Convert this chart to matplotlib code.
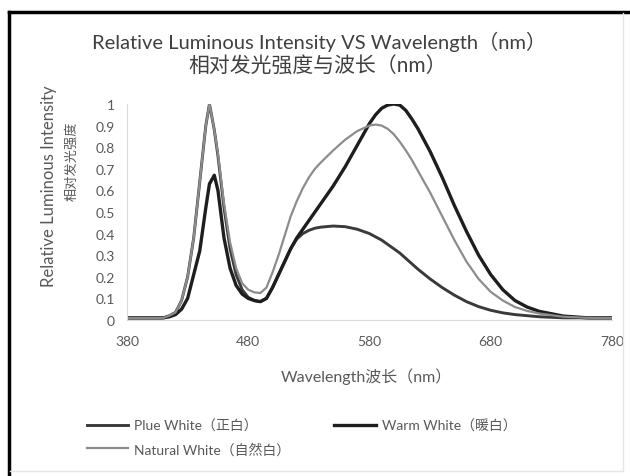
import matplotlib
matplotlib.use("Agg")
import matplotlib.pyplot as plt
from matplotlib.lines import Line2D

plt.rcParams['font.family'] = ['Lato', 'Noto Sans CJK SC', 'DejaVu Sans']

# wavelength grid (nm)
wavelength = [380, 390, 400, 410, 415, 420, 425, 430, 435, 440, 445, 448, 452, 455,
              460, 465, 470, 475, 480, 485, 490, 495, 500, 505, 510, 515, 520, 525,
              530, 535, 540, 550, 560, 570, 580, 585, 590, 595, 600, 605, 610, 615,
              620, 630, 640, 650, 660, 670, 680, 690, 700, 710, 720, 740, 760, 780]

plue_white = [0.01, 0.01, 0.01, 0.01, 0.02, 0.035, 0.09, 0.20, 0.38, 0.64, 0.90, 1.0, 0.88, 0.76,
              0.52, 0.33, 0.21, 0.14, 0.105, 0.09, 0.085, 0.10, 0.15, 0.21, 0.27, 0.33, 0.375, 0.40,
              0.415, 0.425, 0.43, 0.435, 0.432, 0.42, 0.40, 0.385, 0.37, 0.35, 0.33, 0.31, 0.285, 0.26,
              0.235, 0.19, 0.15, 0.115, 0.085, 0.062, 0.045, 0.033, 0.025, 0.02, 0.015, 0.01, 0.01, 0.01]

warm_white = [0.01, 0.01, 0.01, 0.01, 0.015, 0.025, 0.05, 0.10, 0.21, 0.32, 0.52, 0.63, 0.67, 0.60,
              0.38, 0.24, 0.16, 0.12, 0.10, 0.09, 0.085, 0.10, 0.15, 0.21, 0.27, 0.33, 0.38, 0.42,
              0.46, 0.50, 0.54, 0.62, 0.71, 0.81, 0.91, 0.95, 0.98, 0.995, 1.0, 0.995, 0.97, 0.93,
              0.885, 0.78, 0.66, 0.53, 0.41, 0.30, 0.21, 0.14, 0.09, 0.06, 0.04, 0.018, 0.01, 0.01]

natural_white = [0.01, 0.01, 0.01, 0.01, 0.02, 0.035, 0.09, 0.20, 0.38, 0.64, 0.90, 1.0, 0.88, 0.77,
                 0.54, 0.36, 0.24, 0.17, 0.14, 0.128, 0.125, 0.15, 0.22, 0.30, 0.39, 0.48, 0.55, 0.61,
                 0.66, 0.70, 0.73, 0.785, 0.835, 0.875, 0.90, 0.905, 0.90, 0.885, 0.86, 0.825, 0.785, 0.74,
                 0.69, 0.59, 0.48, 0.37, 0.27, 0.19, 0.13, 0.09, 0.06, 0.042, 0.03, 0.015, 0.01, 0.01]

x_ticks = [380, 480, 580, 680, 780]
y_ticks = [0, 0.1, 0.2, 0.3, 0.4, 0.5, 0.6, 0.7, 0.8, 0.9, 1]
y_tick_labels = ["0", "0.1", "0.2", "0.3", "0.4", "0.5", "0.6", "0.7", "0.8", "0.9", "1"]

text_color = "#595959"

fig = plt.figure(figsize=(6.3, 4.77), dpi=100)
ax = fig.add_axes([127 / 630, 1 - 321 / 477, 485 / 630, 216 / 477])

l_plue, = ax.plot(wavelength, plue_white, color="#3a3a3a", lw=2.1, label="Plue White（正白）")
l_warm, = ax.plot(wavelength, warm_white, color="#1e1e1e", lw=2.4, label="Warm White（暖白）")
l_nat, = ax.plot(wavelength, natural_white, color="#8c8c8c", lw=1.6, label="Natural White（自然白）")

ax.set_xlim(380, 780)
ax.set_ylim(0, 1)
ax.set_xticks(x_ticks)
ax.set_yticks(y_ticks)
ax.set_yticklabels(y_tick_labels)
ax.tick_params(length=0, labelsize=10, colors=text_color)
ax.tick_params(axis="y", pad=9)
ax.tick_params(axis="x", pad=11)
for s in ["top", "right"]:
    ax.spines[s].set_visible(False)
for s in ["left", "bottom"]:
    ax.spines[s].set_color("#d9d9d9")
    ax.spines[s].set_linewidth(0.8)

# titles
fig.text(319 / 630, 1 - 42 / 477, "Relative Luminous Intensity VS Wavelength（nm）",
         ha="center", va="center", fontsize=14.5, color="#404040")
fig.text(318 / 630, 1 - 67 / 477, "相对发光强度与波长（nm）",
         ha="center", va="center", fontsize=15, color="#404040")

# axis titles
fig.text(49 / 630, 1 - 186 / 477, "Relative Luminous Intensity", rotation=90,
         ha="center", va="center", fontsize=12, color=text_color)
fig.text(71 / 630, 1 - 161 / 477, "相对发光强度", rotation=90,
         ha="center", va="center", fontsize=9.5, color=text_color)
fig.text(366 / 630, 1 - 377 / 477, "Wavelength波长（nm）",
         ha="center", va="center", fontsize=11.5, color=text_color)

fig.legend(handles=[l_plue, l_nat, l_warm], ncol=2, loc="center left",
           bbox_to_anchor=(74 / 630, 1 - 438 / 477), frameon=False, fontsize=10,
           handlelength=3.0, handletextpad=0.4, columnspacing=3.2, labelspacing=0.7,
           labelcolor=text_color)

# outer frame
fig.add_artist(Line2D([9 / 630, 9 / 630], [0, 1 - 13 / 477], color="black", lw=2.5))
fig.add_artist(Line2D([9 / 630, 1], [1 - 13 / 477, 1 - 13 / 477], color="black", lw=2.5))
fig.add_artist(Line2D([623 / 630, 623 / 630], [1 - 472 / 477, 1 - 14 / 477], color="#e6e6e6", lw=1))
fig.add_artist(Line2D([10 / 630, 623 / 630], [1 - 472 / 477, 1 - 472 / 477], color="#e6e6e6", lw=1))

fig.savefig("out.png", dpi=100)
